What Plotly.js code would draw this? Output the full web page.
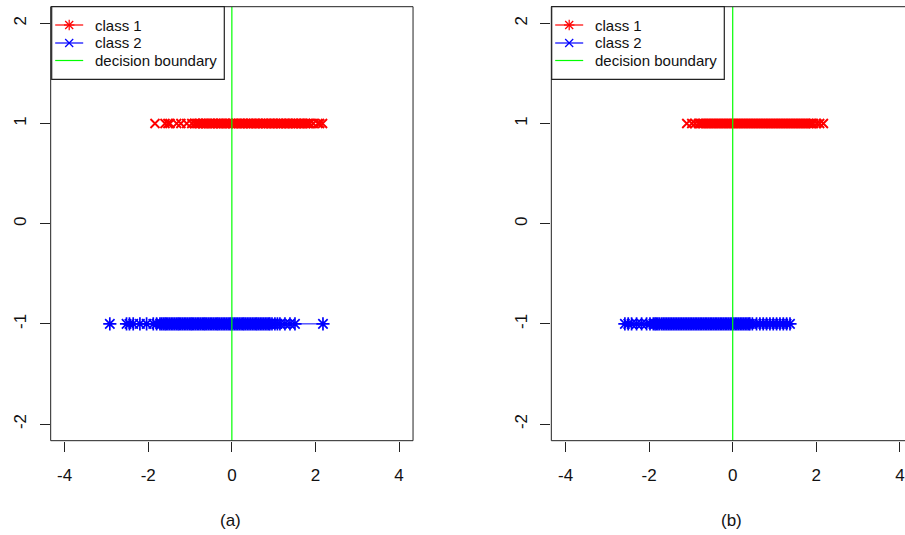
<!DOCTYPE html>
<html>
<head>
<meta charset="utf-8">
<script src="https://cdn.plot.ly/plotly-3.0.1.min.js"></script>
<style>html,body{margin:0;padding:0;background:#fff;}#chart{width:905px;height:535px;}</style>
</head>
<body>
<div id="chart"></div>
<script>
// ---- data ----
const seriesNames = ["class 1", "class 2", "decision boundary"];
const panelCaptions = ["(a)", "(b)"];
const class1Label = 1;
const class2Label = -1;
const boundaryX = 0;
const xTicks = [-4, -2, 0, 2, 4];
const yTicks = [-2, -1, 0, 1, 2];

// panel (a)
const a_class1 = [-1.84,-1.6,-1.53,-1.48,-1.32,-1.22,-1.08,-0.96,
 -0.89,-0.86,-0.82,-0.79,-0.75,-0.71,-0.68,-0.64,-0.61,-0.57,-0.53,-0.5,-0.46,-0.43,-0.39,-0.35,-0.32,-0.28,-0.25,-0.21,-0.17,-0.14,-0.1,-0.07,-0.03,
 0.01,0.04,0.08,0.11,0.15,0.19,0.22,0.26,0.29,0.33,0.37,0.4,0.44,0.47,0.51,0.55,0.58,0.62,0.65,0.69,0.73,0.76,0.8,0.83,0.87,0.91,0.94,0.98,
 1.01,1.05,1.09,1.12,1.16,1.19,1.23,1.27,1.3,1.34,1.37,1.41,1.45,1.48,1.52,1.55,1.59,1.63,1.66,1.7,1.73,1.77,1.81,1.84,1.87,
 1.95,2.06,2.1,2.17];
const a_class2 = [-2.92,-2.52,-2.45,-2.36,-2.2,-2.04,-1.88,-1.8,-1.72,-1.68,
 -1.64,-1.6,-1.57,-1.53,-1.49,-1.45,-1.41,-1.37,-1.33,-1.29,-1.26,-1.22,-1.18,-1.14,-1.1,-1.06,-1.02,-0.98,-0.95,-0.91,-0.87,-0.83,-0.79,-0.75,-0.71,-0.67,
 -0.64,-0.6,-0.56,-0.52,-0.48,-0.44,-0.4,-0.36,-0.33,-0.29,-0.25,-0.21,-0.17,-0.13,-0.09,-0.05,-0.02,0.02,0.06,0.1,0.14,0.18,0.22,0.26,0.29,0.33,
 0.37,0.41,0.45,0.49,0.53,0.57,0.6,0.64,0.68,0.72,0.76,0.8,0.84,0.88,0.91,
 0.96,1.03,1.09,1.15,1.27,1.39,1.51,2.18];

// panel (b)
const b_class1 = [-1.1,-0.98,-0.9,
 -0.82,-0.78,-0.74,-0.7,-0.66,-0.62,-0.58,-0.54,-0.5,-0.46,-0.42,-0.38,-0.34,-0.3,-0.26,-0.22,-0.18,-0.14,-0.1,-0.06,-0.02,
 0.02,0.06,0.1,0.14,0.18,0.22,0.26,0.3,0.34,0.38,0.42,0.46,0.5,0.54,0.58,0.62,0.66,0.7,0.74,0.78,0.82,0.86,0.9,0.94,0.98,
 1.02,1.06,1.1,1.14,1.18,1.22,1.26,1.3,1.34,1.38,1.42,1.46,1.5,1.54,1.58,1.62,1.66,1.7,1.74,1.78,1.82,1.86,1.9,1.93,
 2.01,2.08,2.17];
const b_class2 = [-2.58,-2.5,-2.42,-2.3,-2.18,-2.06,-1.98,
 -1.9,-1.86,-1.83,-1.79,-1.75,-1.7,-1.66,-1.62,-1.58,-1.54,-1.5,-1.46,-1.42,-1.38,-1.34,-1.3,-1.26,-1.22,-1.18,-1.14,-1.1,-1.06,-1.02,
 -0.98,-0.94,-0.9,-0.86,-0.82,-0.78,-0.74,-0.7,-0.66,-0.62,-0.58,-0.54,-0.5,-0.46,-0.42,-0.38,-0.34,-0.3,-0.26,-0.22,-0.18,-0.14,-0.1,-0.06,-0.02,
 0.02,0.06,0.1,0.14,0.18,0.22,0.26,0.3,0.34,0.38,0.41,
 0.47,0.57,0.65,0.73,0.81,0.89,0.97,1.05,1.13,1.21,1.29,1.37];

// ---- styles ----
const RED = "#ff0000", BLUE = "#0000ff", GREEN = "#00ff00", INK = "#222222";
const FONT = "Liberation Sans, Arial, sans-serif";
const W = 905, H = 535;
const yRange = [-2.166, 2.166];

function panelTraces(c1, c2, xa, ya, extraLine) {
  const tr = [];
  tr.push({x: c1, y: c1.map(() => class1Label), xaxis: xa, yaxis: ya, type: "scatter", mode: "markers",
    name: seriesNames[0], showlegend: false, hoverinfo: "skip",
    marker: {symbol: "x-thin-open", size: 9, color: RED, line: {color: RED, width: 1.9}}});
  tr.push({x: c2, y: c2.map(() => class2Label), xaxis: xa, yaxis: ya, type: "scatter", mode: "markers",
    name: seriesNames[1], showlegend: false, hoverinfo: "skip",
    marker: {symbol: "asterisk-open", size: 11, color: BLUE, line: {color: BLUE, width: 1.7}}});
  if (extraLine) {
    const tail = c2.slice(-2);
    tr.push({x: tail, y: tail.map(() => class2Label), xaxis: xa, yaxis: ya, type: "scatter", mode: "lines",
      showlegend: false, hoverinfo: "skip", line: {color: BLUE, width: 1}});
  }
  tr.push({x: [boundaryX, boundaryX], y: yRange, xaxis: xa, yaxis: ya, type: "scatter", mode: "lines",
    name: seriesNames[2], showlegend: false, hoverinfo: "skip", line: {color: GREEN, width: 1.2}});
  return tr;
}

const data = [].concat(
  panelTraces(a_class1, a_class2, "x", "y", true),
  panelTraces(b_class1, b_class2, "x2", "y2", false)
);

function xAxis(domain, range, anchor) {
  return {domain: domain, range: range, anchor: anchor, tickvals: xTicks, ticktext: xTicks.map(String),
    ticks: "outside", ticklen: 10, tickwidth: 1, tickcolor: INK, showgrid: false, zeroline: false,
    showline: false, ticklabelstandoff: 9, tickfont: {family: FONT, size: 17, color: "#111"}, fixedrange: true};
}
function yAxis(domain, anchor) {
  return {domain: domain, range: yRange, anchor: anchor, tickvals: yTicks, ticktext: yTicks.map(String),
    ticks: "outside", ticklen: 10, tickwidth: 1, tickcolor: INK, showgrid: false, zeroline: false,
    showline: false, tickangle: -90, ticklabelstandoff: 7, tickfont: {family: FONT, size: 17, color: "#111"}, fixedrange: true};
}
const yDom = [0.1763, 0.9875];

// ---- R-style legend (box, key lines, symbols, text) ----
const px = v => v / W, py = v => 1 - v / H;
const shapes = [
  {type: "rect", xref: "x domain", yref: "y domain", x0: 0, x1: 1, y0: 0, y1: 1, line: {color: INK, width: 1}, layer: "above"},
  {type: "line", xref: "x2 domain", yref: "y2 domain", x0: 0, x1: 0, y0: 0, y1: 1, line: {color: INK, width: 1}, layer: "above"},
  {type: "line", xref: "x2 domain", yref: "y2 domain", x0: 0, x1: 1, y0: 1, y1: 1, line: {color: INK, width: 1}, layer: "above"},
  {type: "line", xref: "x2 domain", yref: "y2 domain", x0: 0, x1: 1, y0: 0, y1: 0, line: {color: INK, width: 1}, layer: "above"}
];
const annotations = [];
const legendColors = [RED, BLUE, GREEN];
const legendSymbols = ["asterisk", "x", null];
function addLegend(left) {
  const top = 6.7, right = left + 172.6, bottom = 79.3;
  shapes.push({type: "rect", xref: "paper", yref: "paper", x0: px(left), x1: px(right), y0: py(bottom), y1: py(top),
    fillcolor: "#ffffff", line: {color: INK, width: 1.2}, layer: "above"});
  const rows = [25, 43, 60.5];
  const l0 = left + 3.5, l1 = left + 31.5, cx = left + 17.5, r = 4;
  rows.forEach((yy, i) => {
    const c = legendColors[i];
    shapes.push({type: "line", xref: "paper", yref: "paper", x0: px(l0), x1: px(l1), y0: py(yy), y1: py(yy),
      line: {color: c, width: 1.2}, layer: "above"});
    const sym = legendSymbols[i];
    if (sym) {
      const segs = [[-r, -r, r, r], [-r, r, r, -r]];
      if (sym === "asterisk") segs.push([0, -r * 1.3, 0, r * 1.3], [-r * 1.3, 0, r * 1.3, 0]);
      segs.forEach(s => shapes.push({type: "line", xref: "paper", yref: "paper",
        x0: px(cx + s[0]), y0: py(yy + s[1]), x1: px(cx + s[2]), y1: py(yy + s[3]),
        line: {color: c, width: 1.2}, layer: "above"}));
    }
    annotations.push({text: seriesNames[i], xref: "paper", yref: "paper", x: px(left + 41.5), y: py(yy),
      xanchor: "left", yanchor: "middle", showarrow: false, font: {family: FONT, size: 15, color: "#111"}});
  });
}
addLegend(51.7);
addLegend(551.7);

annotations.push(
  {text: panelCaptions[0], xref: "paper", yref: "paper", x: 231 / W, y: 15 / H, xanchor: "center", yanchor: "middle",
    showarrow: false, font: {family: FONT, size: 17, color: "#111"}},
  {text: panelCaptions[1], xref: "paper", yref: "paper", x: 731.7 / W, y: 15 / H, xanchor: "center", yanchor: "middle",
    showarrow: false, font: {family: FONT, size: 17, color: "#111"}}
);

const layout = {
  width: W, height: H,
  margin: {l: 0, r: 0, t: 0, b: 0},
  paper_bgcolor: "#ffffff", plot_bgcolor: "#ffffff",
  showlegend: false,
  xaxis: xAxis([0.056, 0.4564], [-4.335, 4.335], "y"),
  yaxis: yAxis(yDom, "x"),
  xaxis2: xAxis([0.6092, 1], [-4.34, 4.122], "y2"),
  yaxis2: yAxis(yDom, "x2"),
  shapes: shapes,
  annotations: annotations
};

Plotly.newPlot("chart", data, layout, {staticPlot: true, displayModeBar: false});
</script>
</body>
</html>
